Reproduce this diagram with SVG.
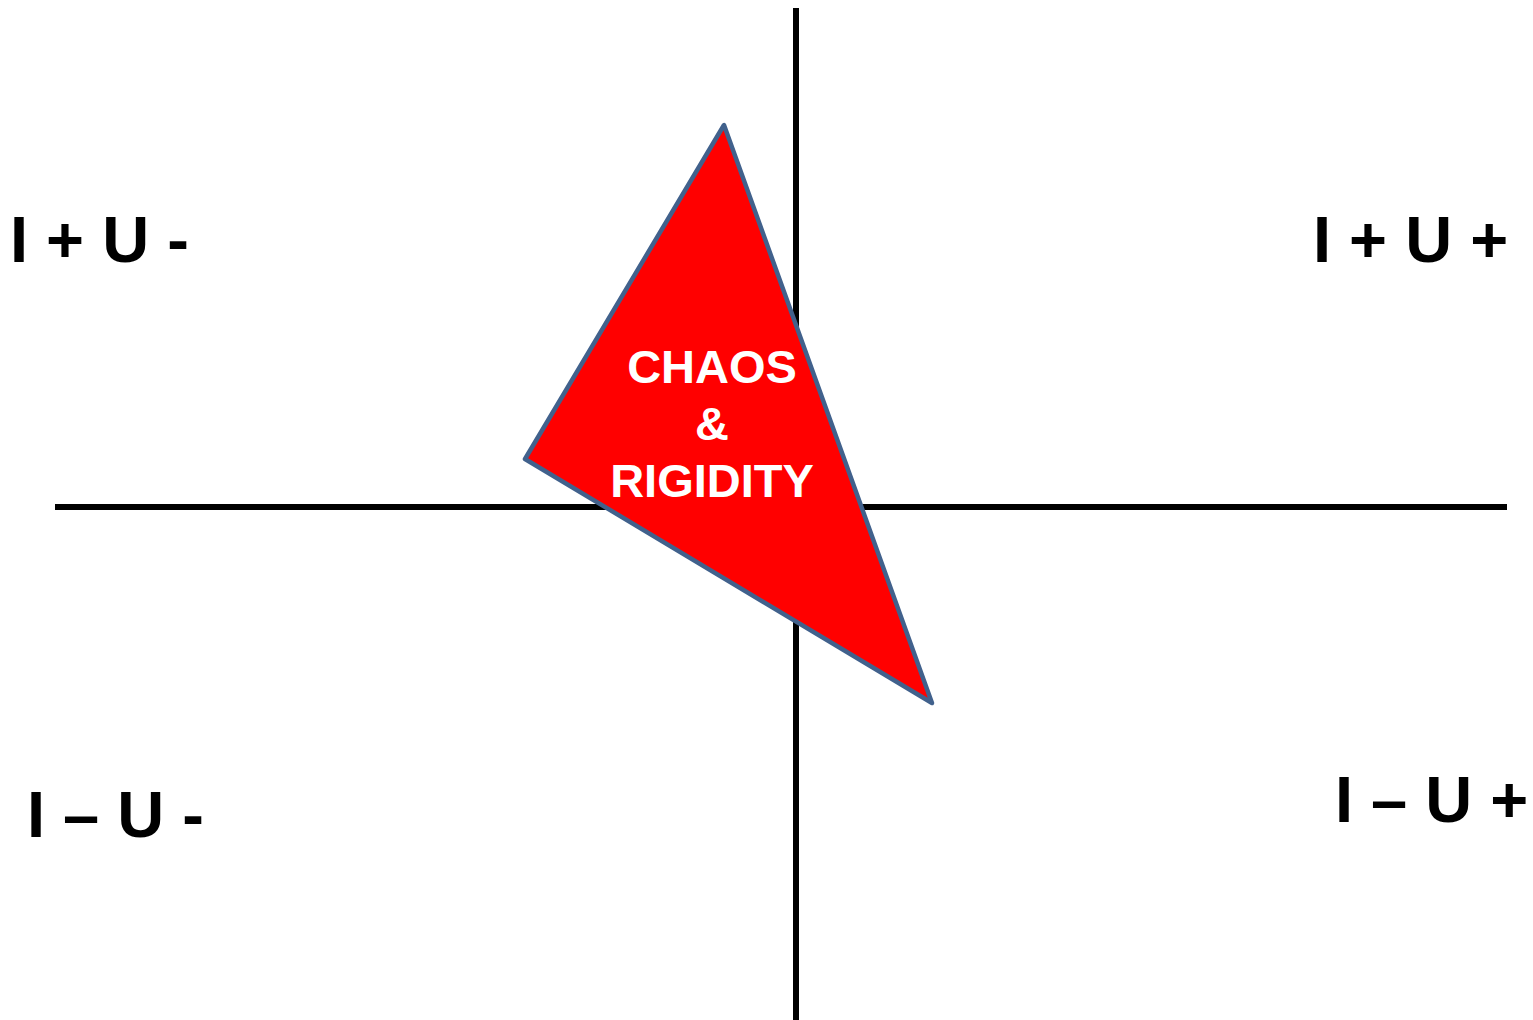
<svg xmlns="http://www.w3.org/2000/svg" width="1533" height="1020" viewBox="0 0 1533 1020">
<style>
.axis{stroke:#000;stroke-width:6;fill:none}
.lbl{font-family:"Liberation Sans",Arial,sans-serif;font-weight:bold;font-size:65px;fill:#000}
.tri{fill:#ff0000;stroke:#41618c;stroke-width:4.5;stroke-linejoin:round}
.tt{font-family:"Liberation Sans",Arial,sans-serif;font-weight:bold;font-size:47px;fill:#fff;text-anchor:middle}
</style>
<rect width="1533" height="1020" fill="#fff"/>
<g id="connectors">
<line class="axis" x1="796" y1="8" x2="796" y2="1020"/>
<line class="axis" x1="55" y1="507" x2="1507" y2="507"/>
</g>
<g id="triangle">
<polygon class="tri" points="724,125 525,459 932,703"/>
<text class="tt" x="712" y="383">CHAOS</text>
<text class="tt" x="712" y="440">&amp;</text>
<text class="tt" x="712" y="497">RIGIDITY</text>
</g>
<g id="q-tl"><text class="lbl" x="10" y="262">I + U -</text></g>
<g id="q-tr"><text class="lbl" x="1313" y="262">I + U +</text></g>
<g id="q-bl"><text class="lbl" x="27" y="837">I – U -</text></g>
<g id="q-br"><text class="lbl" x="1335" y="822">I – U +</text></g>
</svg>
